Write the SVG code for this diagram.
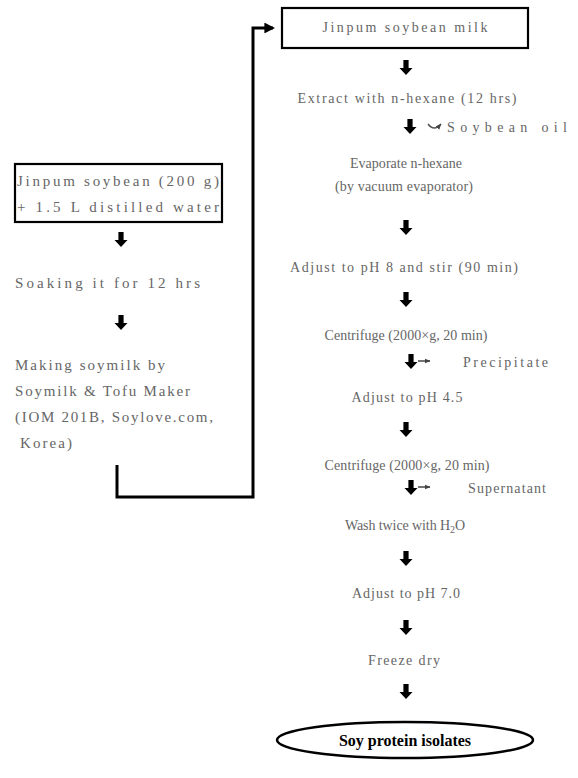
<svg xmlns="http://www.w3.org/2000/svg" width="578" height="778" viewBox="0 0 578 778">
<style>
.t{font-family:"Liberation Serif","DejaVu Serif",serif;font-size:14px;fill:#666;}
.tl{font-family:"Liberation Serif","DejaVu Serif",serif;font-size:15px;fill:#666;}
.box{fill:#fff;stroke:#000;stroke-width:2.2;}
.ln{fill:none;stroke:#000;stroke-width:3;}
.b{font-family:"Liberation Serif","DejaVu Serif",serif;font-size:16px;font-weight:bold;fill:#000;}
</style>
<defs>
<path id="dn" d="M-2.6,0 H2.6 V8 H6.5 L0,15 L-6.5,8 H-2.6 Z" fill="#000"/>
<marker id="ah" viewBox="0 0 10 10" refX="8" refY="5" markerWidth="3.6" markerHeight="3.6" orient="auto" markerUnits="strokeWidth"><path d="M0,0 L10,5 L0,10 Z" fill="#000"/></marker>
<marker id="sh" viewBox="0 0 10 10" refX="9" refY="5" markerWidth="4" markerHeight="4" orient="auto"><path d="M0,1 L10,5 L0,9 Z" fill="#444"/></marker>
</defs>
<rect width="578" height="778" fill="#fff"/>

<g id="left-box">
<rect class="box" x="15" y="164" width="207" height="58"/>
<text class="tl" x="17" y="186" textLength="202">Jinpum soybean (200 g)</text>
<text class="tl" x="17" y="212" textLength="202">+ 1.5 L distilled water</text>
</g>
<g id="soaking"><text class="tl" x="15" y="288" textLength="185">Soaking it for 12 hrs</text></g>
<g id="making">
<text class="tl" x="15" y="370" textLength="150">Making soymilk by</text>
<text class="tl" x="15" y="396" textLength="175">Soymilk &amp; Tofu Maker</text>
<text class="tl" x="15" y="422" textLength="198">(IOM 201B, Soylove.com,</text>
<text class="tl" x="20" y="448" textLength="52">Korea)</text>
</g>

<g id="top-box">
<rect class="box" x="282" y="8" width="246" height="40"/>
<text class="t" x="405" y="32" text-anchor="middle" textLength="165">Jinpum soybean milk</text>
</g>
<g id="extract"><text class="t" x="407" y="103" text-anchor="middle" textLength="219">Extract with n-hexane (12 hrs)</text></g>
<g id="oil"><text class="t" x="447" y="132" textLength="120">Soybean oil</text></g>
<g id="evaporate">
<text class="t" x="406" y="168" text-anchor="middle" textLength="112">Evaporate n-hexane</text>
<text class="t" x="404" y="191" text-anchor="middle" textLength="138">(by vacuum evaporator)</text>
</g>
<g id="adjust8"><text class="t" x="404" y="272" text-anchor="middle" textLength="228">Adjust to pH 8 and stir (90 min)</text></g>
<g id="centrifuge1"><text class="t" x="406" y="340" text-anchor="middle" textLength="163">Centrifuge (2000×g, 20 min)</text></g>
<g id="precipitate"><text class="t" x="463" y="367" textLength="85">Precipitate</text></g>
<g id="adjust45"><text class="t" x="407" y="402" text-anchor="middle" textLength="111">Adjust to pH 4.5</text></g>
<g id="centrifuge2"><text class="t" x="407" y="470" text-anchor="middle" textLength="165">Centrifuge (2000×g, 20 min)</text></g>
<g id="supernatant"><text class="t" x="468" y="493" textLength="78">Supernatant</text></g>
<g id="wash"><text class="t" x="405" y="530" text-anchor="middle" textLength="120">Wash twice with H<tspan font-size="10" dy="3">2</tspan><tspan dy="-3">O</tspan></text></g>
<g id="adjust7"><text class="t" x="406" y="598" text-anchor="middle" textLength="108">Adjust to pH 7.0</text></g>
<g id="freeze"><text class="t" x="404" y="665" text-anchor="middle" textLength="72">Freeze dry</text></g>
<g id="spi">
<ellipse cx="405" cy="740" rx="128" ry="18" fill="none" stroke="#000" stroke-width="2.5"/>
<text class="b" x="405" y="746" text-anchor="middle">Soy protein isolates</text>
</g>

<g id="connectors">
<use href="#dn" x="121" y="232"/>
<use href="#dn" x="121" y="315"/>
<polyline class="ln" points="117,465 117,497 253,497 253,28 273,28" marker-end="url(#ah)"/>
<use href="#dn" x="406" y="60"/>
<use href="#dn" x="410" y="119"/>
<path d="M428,124 Q434,132 441,124" fill="none" stroke="#555" stroke-width="1.5" marker-end="url(#sh)"/>
<use href="#dn" x="406" y="220"/>
<use href="#dn" x="406" y="292"/>
<use href="#dn" x="411" y="354"/>
<line x1="418" y1="361" x2="430" y2="361" stroke="#444" stroke-width="1.5" marker-end="url(#sh)"/>
<use href="#dn" x="406" y="422"/>
<use href="#dn" x="411" y="480"/>
<line x1="418" y1="487" x2="430" y2="487" stroke="#444" stroke-width="1.5" marker-end="url(#sh)"/>
<use href="#dn" x="406" y="551"/>
<use href="#dn" x="406" y="620"/>
<use href="#dn" x="406" y="684"/>
</g>
</svg>
